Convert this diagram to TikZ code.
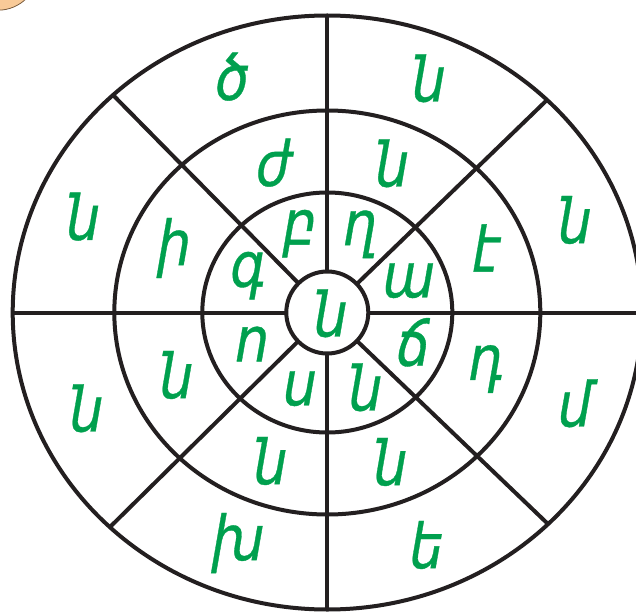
\documentclass[tikz,border=0pt]{standalone}
\usepackage{fontspec}
\newfontfamily\armfont[FakeSlant=0.2,FakeBold=0.6]{DejaVu Sans}
\definecolor{lettergreen}{RGB}{0,160,78}
\definecolor{ink}{RGB}{35,31,32}
\definecolor{peach}{RGB}{248,202,152}
\definecolor{peachedge}{RGB}{120,90,60}
\newcommand{\armletter}[1]{\scalebox{1}[1.15]{#1}}
\tikzset{
  ring/.style={draw=ink, line width=4pt},
  spoke/.style={draw=ink, line width=4pt},
  lt/.style={text=lettergreen, font=\armfont\fontsize{54}{60}\selectfont, inner sep=0pt, anchor=center}
}
\begin{document}
\begin{tikzpicture}[x=1pt,y=-1pt]
\useasboundingbox (0,0) rectangle (636,612);
% corner shape
\fill[peach, draw=peachedge, line width=0.8pt] (-2,-30) circle (40.2pt);
% centre
\coordinate (c) at (327.3,312.5);
% rings
\draw[ring] (c) ellipse [x radius=314.6pt, y radius=297pt];
\draw[ring] (c) ellipse [x radius=213pt, y radius=202pt];
\draw[ring] (c) ellipse [x radius=125pt, y radius=120pt];
% spokes
\coordinate (top) at (327.3,15);
\coordinate (bot) at (327.3,610);
\coordinate (lft) at (12.7,312.5);
\coordinate (rgt) at (642,312.5);
\coordinate (ul) at (112,94);
\coordinate (ur) at (548,99);
\coordinate (lr) at (548,524);
\coordinate (ll) at (109,528);
\draw[spoke] (top) -- (bot);
\draw[spoke] (lft) -- (rgt);
\draw[spoke] (c) -- (ul);
\draw[spoke] (c) -- (ur);
\draw[spoke] (c) -- (lr);
\draw[spoke] (c) -- (ll);
% centre circle
\filldraw[fill=white, draw=ink, line width=4pt] (c) circle (41pt);
% letters: centre
\node[lt] (l0) at (327.5,313.3) {\armletter{ն}};
% inner ring
\node[lt] (i1) at (296.7,233.7) {\armletter{բ}};
\node[lt] (i2) at (357.3,234.3) {\armletter{ղ}};
\node[lt] (i3) at (245,275.7) {\armletter{գ}};
\node[lt] (i4) at (405.7,280.7) {\armletter{ա}};
\node[lt] (i5) at (249,344) {\armletter{ո}};
\node[lt] (i6) at (410,342.3) {\armletter{ճ}};
\node[lt] (i7) at (296.7,388.3) {\armletter{ս}};
\node[lt] (i8) at (362.3,387.3) {\armletter{ն}};
% middle ring
\node[lt] (m1) at (270.7,162.7) {\armletter{ժ}};
\node[lt] (m2) at (389,163.3) {\armletter{ն}};
\node[lt] (m3) at (171,248) {\armletter{ի}};
\node[lt] (m4) at (482.6,248) {\armletter{է}};
\node[lt] (m5) at (173.3,375) {\armletter{ն}};
\node[lt] (m6) at (483.3,369) {\armletter{դ}};
\node[lt] (m7) at (267.3,461) {\armletter{ն}};
\node[lt] (m8) at (387.3,462) {\armletter{ն}};
% outer ring
\node[lt] (o1) at (229,76.7) {\armletter{ծ}};
\node[lt] (o2) at (425.7,78.3) {\armletter{ն}};
\node[lt] (o3) at (80,216.7) {\armletter{ն}};
\node[lt] (o4) at (571.7,220) {\armletter{ն}};
\node[lt] (o5) at (83.3,408.3) {\armletter{ն}};
\node[lt] (o6) at (571.7,403.3) {\armletter{մ}};
\node[lt] (o7) at (235,543) {\armletter{խ}};
\node[lt] (o8) at (423.3,545) {\armletter{ե}};
\end{tikzpicture}
\end{document}
